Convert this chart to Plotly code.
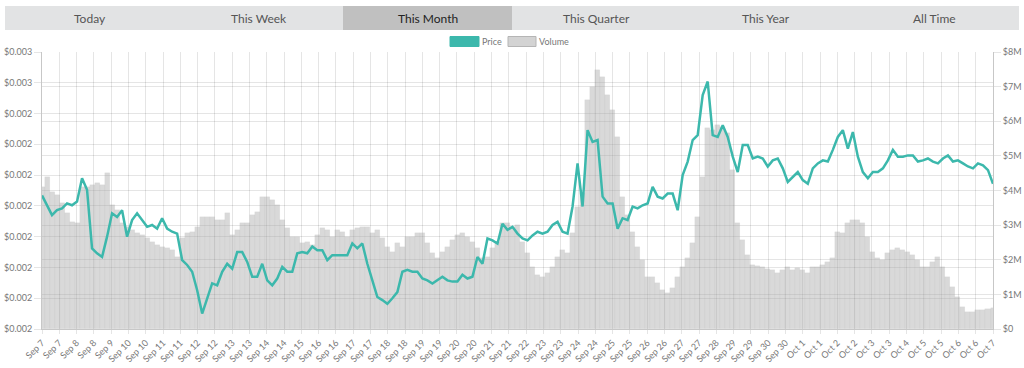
import numpy as np
import plotly.graph_objects as go

# ---------------- data ----------------
tabs = ["Today", "This Week", "This Month", "This Quarter", "This Year", "All Time"]
active_tab = "This Month"

x_labels = ["Sep 7", "Sep 7", "Sep 8", "Sep 8", "Sep 9", "Sep 10", "Sep 10", "Sep 11", "Sep 11",
            "Sep 12", "Sep 12", "Sep 13", "Sep 13", "Sep 14", "Sep 14", "Sep 15", "Sep 16", "Sep 16",
            "Sep 17", "Sep 17", "Sep 18", "Sep 18", "Sep 19", "Sep 19", "Sep 20", "Sep 20", "Sep 21",
            "Sep 21", "Sep 22", "Sep 23", "Sep 23", "Sep 24", "Sep 24", "Sep 25", "Sep 25", "Sep 26",
            "Sep 26", "Sep 27", "Sep 27", "Sep 28", "Sep 29", "Sep 29", "Sep 30", "Sep 30", "Oct 1",
            "Oct 1", "Oct 2", "Oct 2", "Oct 3", "Oct 3", "Oct 4", "Oct 5", "Oct 5", "Oct 6", "Oct 6", "Oct 7"]

# price in millionths of a dollar (1e-6 $)
price_usd_e6 = [
    2317, 2301, 2285, 2293, 2296, 2304, 2301, 2307, 2345, 2326,
    2231, 2223, 2217, 2250, 2288, 2282, 2293, 2250, 2277, 2288,
    2277, 2266, 2269, 2263, 2280, 2263, 2258, 2255, 2212, 2204,
    2193, 2163, 2125, 2150, 2174, 2171, 2193, 2206, 2198, 2225,
    2225, 2209, 2185, 2185, 2206, 2179, 2171, 2182,
    2201, 2193, 2193, 2223, 2225, 2223, 2234, 2228, 2228, 2212,
    2220, 2220, 2220, 2220, 2239, 2231, 2239, 2206, 2179, 2152,
    2147, 2141, 2150, 2160, 2193, 2196, 2193, 2193, 2182, 2179,
    2174, 2179, 2185, 2179, 2177, 2177, 2188, 2182, 2185, 2217,
    2206, 2247, 2244, 2239, 2271, 2261, 2266,
    2255, 2247, 2244, 2252, 2258, 2255, 2258, 2269, 2274, 2258,
    2255, 2299, 2369, 2299, 2423, 2404, 2407, 2315, 2304, 2304,
    2263, 2280, 2277, 2299, 2296, 2301, 2304, 2331, 2315, 2312,
    2320, 2320, 2293, 2350, 2372, 2407, 2415, 2480, 2502, 2415,
    2412, 2431, 2412, 2380, 2355, 2399, 2399,
    2377, 2380, 2377, 2364, 2374, 2377, 2361, 2339, 2347, 2355,
    2342, 2336, 2361, 2369, 2374, 2372, 2391, 2412, 2423, 2393,
    2420, 2380, 2355, 2345, 2355, 2355, 2361, 2374, 2391, 2380,
    2380, 2382, 2382, 2372, 2374, 2377, 2372, 2369, 2377, 2382,
    2372, 2374, 2369, 2364, 2361, 2369, 2366, 2358, 2336,
]

# volume in thousands of dollars
volume_k = [
    4111, 4400, 3967, 3870, 3630, 3341, 3100, 3052, 4111, 4111,
    4159, 4207, 4159, 4496, 3581, 3437, 3052, 2956, 2859, 2763,
    2715, 2619, 2522, 2426, 2378, 2330, 2282, 2089, 2619, 2763,
    2811, 2956, 3244, 3244, 3244, 3148, 3148, 3341, 2715, 2859,
    3052, 3052, 3293, 3389, 3822, 3822, 3726, 3581,
    3148, 2908, 2667, 2667, 2474, 2522, 2426, 2715, 2908, 2859,
    2667, 2859, 2811, 2667, 2859, 2908, 2956, 2956, 2763, 2859,
    2619, 2378, 2234, 2474, 2378, 2667, 2667, 2763, 2763, 2474,
    2186, 2041, 2234, 2378, 2571, 2715, 2763, 2667, 2522, 2330,
    2041, 2089, 2330, 2522, 3052, 3052, 2956,
    3004, 2522, 2186, 1800, 1560, 1512, 1608, 1800, 2089, 2282,
    2186, 2763, 3533, 3918, 6614, 6999, 7480, 7288, 6758, 6325,
    5555, 3822, 3293, 2811, 2378, 1993, 1512, 1512, 1319, 1127,
    1030, 1175, 1512, 1800, 2041, 2474, 3244, 4400, 5796, 5748,
    5892, 5844, 5651, 4592, 3052, 2571, 2137,
    1849, 1820, 1781, 1733, 1704, 1627, 1704, 1800, 1704, 1752,
    1704, 1608, 1800, 1800, 1849, 1945, 2041, 2811, 2763, 3052,
    3148, 3148, 3052, 2667, 2234, 2041, 1993, 2186, 2282, 2330,
    2282, 2234, 2137, 1993, 1800, 1800, 1945, 2089, 1800, 1512,
    1223, 934, 645, 501, 501, 549, 549, 568, 597,
]

price_tick_vals_e6 = [2100, 2150, 2200, 2250, 2300, 2350, 2400, 2450, 2500, 2550]
price_tick_text = ["$0.002", "$0.002", "$0.002", "$0.002", "$0.002",
                   "$0.002", "$0.002", "$0.002", "$0.003", "$0.003"]
volume_tick_vals_m = [0, 1, 2, 3, 4, 5, 6, 7, 8]
volume_tick_text = ["$0", "$1M", "$2M", "$3M", "$4M", "$5M", "$6M", "$7M", "$8M"]

# ---------------- figure ----------------
W, H = 1024, 368
L, R, T, B = 42, 31, 52, 39
PW, PH = W - L - R, H - T - B

def pxx(px):
    return (px - L) / PW

def pxy(py):
    return (H - B - py) / PH

price = np.array(price_usd_e6) * 1e-6
volume = np.array(volume_k) * 1e3
n = len(price)
x = np.arange(n)
tickpos = [j * (n - 1) / (len(x_labels) - 1) for j in range(len(x_labels))]

TEAL = "#3cb8ac"
GRID = "rgba(0,0,0,0.1)"
FONT = "Lato, 'Open Sans', sans-serif"
TICKFONT = dict(family=FONT, size=9, color="#777")

fig = go.Figure()
fig.add_trace(go.Bar(
    x=x, y=volume, name="Volume", yaxis="y",
    marker=dict(color="rgba(165,165,165,0.42)",
                line=dict(color="rgba(150,150,150,0.12)", width=0.5)),
    hoverinfo="skip",
))
fig.add_trace(go.Scatter(
    x=x, y=price, name="Price", yaxis="y2", mode="lines",
    line=dict(color=TEAL, width=2.5, shape="linear"),
))

axis_common = dict(showgrid=True, gridcolor=GRID, gridwidth=1, zeroline=False,
                   ticks="outside", tickcolor=GRID, showline=True,
                   linecolor="rgba(0,0,0,0.22)", linewidth=1, tickfont=TICKFONT)

fig.update_layout(
    width=W, height=H,
    margin=dict(l=L, r=R, t=T, b=B, autoexpand=False),
    paper_bgcolor="white", plot_bgcolor="white",
    showlegend=False, bargap=0,
    font=dict(family=FONT, size=10, color="#666"),
    xaxis=dict(range=[0, n - 1], tickmode="array", tickvals=tickpos, ticktext=x_labels,
               tickangle=-45, ticklen=4, automargin=False, **axis_common),
    yaxis=dict(side="right", range=[0, 8e6], tickmode="array", ticklen=7,
               tickvals=[v * 1e6 for v in volume_tick_vals_m], ticktext=volume_tick_text,
               automargin=False, **axis_common),
    yaxis2=dict(side="left", overlaying="y", range=[2100e-6, 2550e-6], tickmode="array",
                ticklen=7, tickvals=[v * 1e-6 for v in price_tick_vals_e6],
                ticktext=price_tick_text, automargin=False, **axis_common),
)

# ---- tab bar ----
shapes = []
annotations = []
tab_left, tab_right, tab_top, tab_bot = 5, 1019, 6, 30
shapes.append(dict(type="rect", xref="paper", yref="paper",
                   x0=pxx(tab_left), x1=pxx(tab_right), y0=pxy(tab_bot), y1=pxy(tab_top),
                   fillcolor="#e2e3e4", line=dict(width=0), layer="above"))
tw = (tab_right - tab_left) / len(tabs)
for i, t in enumerate(tabs):
    x0 = tab_left + i * tw
    if t == active_tab:
        shapes.append(dict(type="rect", xref="paper", yref="paper",
                           x0=pxx(x0), x1=pxx(x0 + tw), y0=pxy(tab_bot), y1=pxy(tab_top),
                           fillcolor="#c0c0c0", line=dict(width=0), layer="above"))
    annotations.append(dict(xref="paper", yref="paper", x=pxx(x0 + tw / 2), y=pxy(18),
                            text=t, showarrow=False, xanchor="center", yanchor="middle",
                            font=dict(family=FONT, size=12,
                                      color="#222" if t == active_tab else "#555")))

# ---- legend ----
legend_items = [("Price", TEAL, TEAL, 450, 479), ("Volume", "#d3d3d3", "#b5b5b5", 508, 536)]
for name, fill, edge, sx0, sx1 in legend_items:
    shapes.append(dict(type="rect", xref="paper", yref="paper",
                       x0=pxx(sx0), x1=pxx(sx1), y0=pxy(46.5), y1=pxy(36.5),
                       fillcolor=fill, line=dict(color=edge, width=1), layer="above"))
    annotations.append(dict(xref="paper", yref="paper", x=pxx(sx1 + 2), y=pxy(41.5),
                            text=name, showarrow=False, xanchor="left", yanchor="middle",
                            borderpad=0, font=dict(family=FONT, size=9, color="#777")))

fig.update_layout(shapes=shapes, annotations=annotations)

fig.write_html("out.html", config={"displayModeBar": False},
               post_script="document.body.style.margin='0';")
